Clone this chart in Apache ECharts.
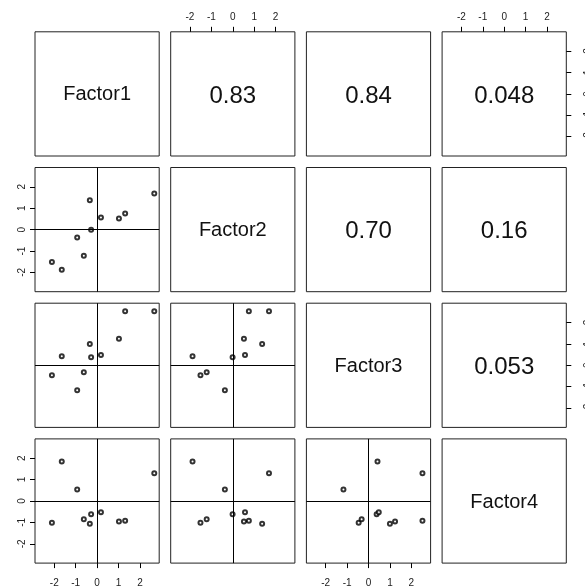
<!DOCTYPE html>
<html>
<head>
<meta charset="utf-8">
<script src="https://cdn.jsdelivr.net/npm/echarts@6/dist/echarts.min.js"></script>
<style>
html,body{margin:0;padding:0;background:#fff;}
#chart{width:585px;height:587px;}
</style>
</head>
<body>
<div id="chart"></div>
<script>
// ---- data ----
const factorNames = ['Factor1', 'Factor2', 'Factor3', 'Factor4'];
const factor1 = [-2.11, -1.65, -0.93, -0.62, -0.34, -0.28, 0.18, 1.02, 1.31, 2.67];
const factor2 = [-1.51, -1.88, -0.37, -1.22, 1.37, -0.01, 0.57, 0.52, 0.75, 1.69];
const factor3 = [-0.46, 0.42, -1.17, -0.32, 1.00, 0.38, 0.48, 1.24, 2.52, 2.52];
const factor4 = [-1.01, 1.84, 0.54, -0.85, -1.06, -0.62, -0.53, -0.96, -0.92, 1.30];
// correlations shown in upper panels: (1,2),(1,3),(1,4),(2,3),(2,4),(3,4)
const corrLabels = ['0.83', '0.84', '0.048', '0.70', '0.16', '0.053'];
const tickValues = [-2, -1, 0, 1, 2];
const axisMin = -2.9, axisMax = 2.9;

const factors = [factor1, factor2, factor3, factor4];

// ---- layout ----
const L0 = 35, T0 = 31.8, STEP = 135.7, SIZE = 124.2;
const FONT = "'Liberation Sans', Arial, sans-serif";
const INK = '#000';

const grids = [], xAxes = [], yAxes = [], series = [], graphics = [];
let corrIdx = {};
{
  let c = 0;
  for (let a = 0; a < 4; a++) for (let b = a + 1; b < 4; b++) corrIdx[a + '-' + b] = corrLabels[c++];
}

for (let i = 0; i < 4; i++) {
  for (let j = 0; j < 4; j++) {
    const k = i * 4 + j;
    const left = L0 + j * STEP, top = T0 + i * STEP;
    grids.push({
      left: left, top: top, width: SIZE, height: SIZE,
      show: true, borderColor: '#222', borderWidth: 1, backgroundColor: 'transparent',
      containLabel: false, outerBoundsMode: 'none'
    });
    let xPos = null, yPos = null;
    if (i === 3 && (j === 0 || j === 2)) xPos = 'bottom';
    if (i === 0 && (j === 1 || j === 3)) xPos = 'top';
    if (j === 0 && (i === 1 || i === 3)) yPos = 'left';
    if (j === 3 && (i === 0 || i === 2)) yPos = 'right';
    xAxes.push({
      gridIndex: k, type: 'value', min: axisMin, max: axisMax,
      position: xPos || 'bottom',
      show: !!xPos,
      axisLine: { show: false, onZero: false },
      splitLine: { show: false },
      axisTick: { show: true, length: 5, customValues: tickValues, lineStyle: { color: INK, width: 1 } },
      axisLabel: {
        show: true, customValues: tickValues, color: '#222', fontSize: 10, fontFamily: FONT,
        margin: xPos === 'top' ? 10 : 15
      }
    });
    yAxes.push({
      gridIndex: k, type: 'value', min: axisMin, max: axisMax,
      position: yPos || 'left',
      show: !!yPos,
      axisLine: { show: false, onZero: false },
      splitLine: { show: false },
      axisTick: { show: true, length: 5, customValues: tickValues, lineStyle: { color: INK, width: 1 } },
      axisLabel: {
        show: true, customValues: tickValues, color: '#222', fontSize: 10, fontFamily: FONT,
        rotate: 90, margin: yPos === 'left' ? 8 : 17
      }
    });
    const cx = left + SIZE / 2, cy = top + SIZE / 2;
    if (i === j) {
      graphics.push({
        type: 'text', x: cx, y: cy + 1,
        style: { text: factorNames[i], font: '20px ' + FONT, fill: '#111', textAlign: 'center', textVerticalAlign: 'middle' }
      });
    } else if (i < j) {
      graphics.push({
        type: 'text', x: cx, y: cy + 2,
        style: { text: corrIdx[i + '-' + j], font: '24px ' + FONT, fill: '#111', textAlign: 'center', textVerticalAlign: 'middle' }
      });
    } else {
      const xs = factors[j], ys = factors[i];
      series.push({
        type: 'scatter', xAxisIndex: k, yAxisIndex: k,
        data: xs.map((v, n) => [v, ys[n]]),
        symbol: 'emptyCircle', symbolSize: 4,
        itemStyle: { color: INK, borderColor: INK, borderWidth: 0.8 },
        silent: true, animation: false, z: 3,
        markLine: {
          silent: true, symbol: ['none', 'none'], animation: false,
          label: { show: false },
          lineStyle: { color: INK, width: 1, type: 'solid' },
          data: [{ xAxis: 0 }, { yAxis: 0 }]
        }
      });
    }
  }
}

const chart = echarts.init(document.getElementById('chart'), null, { renderer: 'canvas' });
chart.setOption({
  animation: false,
  backgroundColor: '#fff',
  grid: grids,
  xAxis: xAxes,
  yAxis: yAxes,
  series: series,
  graphic: graphics
});
</script>
</body>
</html>
